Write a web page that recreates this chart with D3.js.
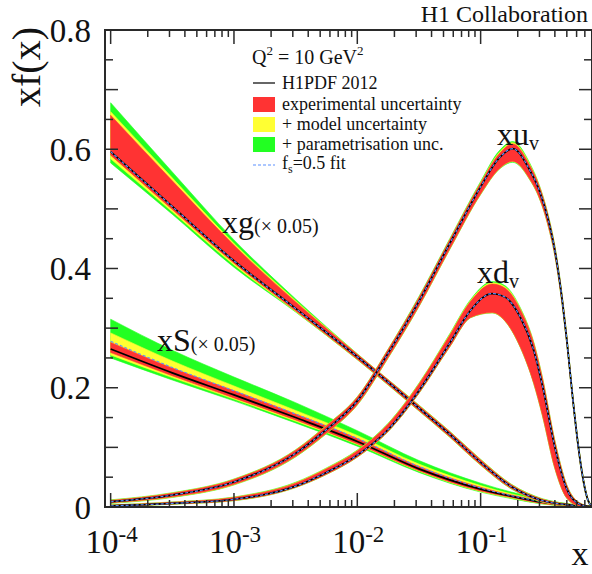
<!DOCTYPE html>
<html>
<head>
<meta charset="utf-8">
<script src="https://cdn.jsdelivr.net/npm/d3@7"></script>
<style>
  body { margin: 0; background: #fff; }
  svg { display: block; }
  text { font-family: "Liberation Serif", "DejaVu Serif", serif; fill: #111; }
</style>
</head>
<body>
<svg id="chart" width="592" height="574"></svg>
<script>
// ---- data (Q^2 = 10 GeV^2) ----

// xg (x 0.05)
const gX      = [1e-4, 3.16e-4, 1e-3, 3.16e-3, 1e-2, 3.16e-2, 5.62e-2, 0.1, 0.178, 0.316, 0.562, 0.8]
const gC      = [0.596, 0.504, 0.413, 0.333, 0.252, 0.166, 0.122, 0.075, 0.034, 0.011, 0.003, 0.001]
const gRedLo  = [0.590, 0.499, 0.409, 0.329, 0.248, 0.162, 0.118, 0.071, 0.031, 0.009, 0.002, 0.0005]
const gRedHi  = [0.657, 0.547, 0.439, 0.344, 0.256, 0.170, 0.126, 0.079, 0.037, 0.013, 0.004, 0.0015]
const gYelLo  = [0.584, 0.495, 0.406, 0.328, 0.2475, 0.1615, 0.1175, 0.0705, 0.0305, 0.0085, 0.0018, 0.0004]
const gYelHi  = [0.663, 0.552, 0.442, 0.346, 0.2565, 0.1705, 0.1265, 0.0795, 0.0375, 0.0135, 0.0042, 0.0016]
const gGrnLo  = [0.577, 0.491, 0.402, 0.327, 0.247, 0.161, 0.117, 0.070, 0.030, 0.008, 0.0016, 0.0003]
const gGrnHi  = [0.678, 0.562, 0.448, 0.349, 0.257, 0.171, 0.127, 0.080, 0.038, 0.014, 0.0045, 0.0018]

// xS (x 0.05)
const sX      = [1e-4, 3.16e-4, 1e-3, 3.16e-3, 1e-2, 3.16e-2, 0.1, 0.178, 0.316, 0.562, 0.8]
const sC      = [0.265, 0.225, 0.188, 0.150, 0.110, 0.064, 0.030, 0.018, 0.008, 0.002, 0.0003]
const sRedLo  = [0.259, 0.220, 0.183, 0.146, 0.106, 0.061, 0.027, 0.016, 0.006, 0.001, 0]
const sRedHi  = [0.276, 0.233, 0.195, 0.156, 0.115, 0.068, 0.033, 0.020, 0.010, 0.003, 0.0006]
const sYelLo  = [0.255, 0.217, 0.181, 0.144, 0.105, 0.060, 0.026, 0.015, 0.0055, 0.001, 0]
const sYelHi  = [0.292, 0.245, 0.203, 0.162, 0.120, 0.072, 0.036, 0.022, 0.011, 0.0035, 0.0008]
const sGrnLo  = [0.250, 0.213, 0.178, 0.141, 0.102, 0.058, 0.025, 0.014, 0.005, 0.0008, 0]
const sGrnHi  = [0.315, 0.263, 0.218, 0.175, 0.128, 0.078, 0.040, 0.025, 0.013, 0.004, 0.001]
const sFs     = [0.278, 0.234, 0.195, 0.156, 0.115, 0.068, 0.032, 0.019, 0.009, 0.0022, 0.0003]

// xu_v
const uX      = [1e-4, 3.16e-4, 1e-3, 3.16e-3, 5.62e-3, 1e-2, 1.78e-2, 3.16e-2, 5.62e-2, 0.1, 0.141, 0.182, 0.25, 0.30, 0.355, 0.40, 0.46, 0.50, 0.56, 0.63, 0.68, 0.74, 0.8]
const uC      = [0.009, 0.020, 0.042, 0.090, 0.130, 0.178, 0.258, 0.345, 0.442, 0.537, 0.585, 0.601, 0.565, 0.530, 0.480, 0.430, 0.345, 0.280, 0.180, 0.090, 0.045, 0.012, 0.001]
const uRedLo  = [0.007, 0.017, 0.038, 0.085, 0.124, 0.172, 0.251, 0.337, 0.433, 0.525, 0.567, 0.580, 0.550, 0.518, 0.470, 0.422, 0.337, 0.273, 0.174, 0.085, 0.041, 0.010, 0]
const uRedHi  = [0.011, 0.023, 0.046, 0.095, 0.136, 0.184, 0.264, 0.351, 0.448, 0.543, 0.592, 0.609, 0.573, 0.537, 0.486, 0.436, 0.351, 0.286, 0.185, 0.094, 0.048, 0.014, 0.002]
const uYelLo  = [0.0065, 0.0165, 0.0375, 0.0845, 0.1235, 0.1715, 0.2505, 0.3365, 0.4325, 0.5245, 0.5665, 0.5795, 0.5495, 0.5175, 0.4695, 0.4215, 0.3365, 0.2725, 0.1735, 0.0845, 0.0405, 0.0095, 0]
const uYelHi  = [0.0115, 0.0235, 0.0465, 0.0955, 0.1365, 0.1845, 0.2645, 0.3515, 0.4485, 0.544, 0.594, 0.611, 0.575, 0.538, 0.487, 0.437, 0.352, 0.287, 0.186, 0.095, 0.049, 0.0145, 0.0022]
const uGrnLo  = [0.006, 0.016, 0.037, 0.084, 0.123, 0.171, 0.250, 0.336, 0.432, 0.524, 0.566, 0.578, 0.549, 0.517, 0.469, 0.421, 0.336, 0.272, 0.173, 0.084, 0.040, 0.009, 0]
const uGrnHi  = [0.012, 0.024, 0.047, 0.096, 0.137, 0.185, 0.265, 0.353, 0.450, 0.546, 0.597, 0.613, 0.577, 0.539, 0.488, 0.438, 0.353, 0.288, 0.187, 0.096, 0.050, 0.015, 0.0025]

// xd_v
const dX      = [1e-4, 3.16e-4, 1e-3, 3.16e-3, 5.62e-3, 1e-2, 1.78e-2, 3.16e-2, 5.62e-2, 8.3e-2, 0.124, 0.158, 0.21, 0.27, 0.316, 0.40, 0.50, 0.63, 0.8]
const dC      = [0.002, 0.006, 0.013, 0.035, 0.058, 0.087, 0.130, 0.195, 0.275, 0.330, 0.358, 0.352, 0.318, 0.262, 0.205, 0.100, 0.030, 0.005, 0]
const dRedLo  = [0.001, 0.005, 0.011, 0.033, 0.055, 0.084, 0.127, 0.191, 0.269, 0.318, 0.326, 0.312, 0.268, 0.207, 0.155, 0.065, 0.015, 0.002, 0]
const dRedHi  = [0.003, 0.008, 0.016, 0.040, 0.064, 0.094, 0.139, 0.206, 0.288, 0.345, 0.374, 0.367, 0.331, 0.274, 0.217, 0.110, 0.036, 0.007, 0.0005]
const dYelLo  = [0.0009, 0.0048, 0.0108, 0.0328, 0.0548, 0.0838, 0.1268, 0.1908, 0.2688, 0.3178, 0.3258, 0.3118, 0.2678, 0.2068, 0.1548, 0.0648, 0.0148, 0.0018, 0]
const dYelHi  = [0.0032, 0.0082, 0.0164, 0.0408, 0.0648, 0.0948, 0.1398, 0.2068, 0.2893, 0.3465, 0.376, 0.369, 0.3325, 0.275, 0.218, 0.1108, 0.0365, 0.0072, 0.0005]
const dGrnLo  = [0.0008, 0.0045, 0.0105, 0.0325, 0.0545, 0.0835, 0.1265, 0.1905, 0.2685, 0.3175, 0.3255, 0.3115, 0.2675, 0.2065, 0.1545, 0.0645, 0.0145, 0.0015, 0]
const dGrnHi  = [0.0035, 0.0085, 0.0168, 0.0415, 0.0655, 0.0955, 0.1405, 0.2075, 0.2905, 0.348, 0.378, 0.371, 0.334, 0.276, 0.219, 0.1115, 0.037, 0.0075, 0.0006]

// axis labels
const yTickLabels = ["0", "0.2", "0.4", "0.6", "0.8"]
const xTickExps   = ["-4", "-3", "-2", "-1"]
const legendItems = ["H1PDF 2012", "experimental uncertainty", "+ model uncertainty", "+ parametrisation unc."]

// ---- drawing ----
const RED = "#ff3333", YEL = "#ffff33", GRN = "#22ff22", DASH = "#5a90ff", AX = "#2a2a2a"

const svg = d3.select("#chart")
const x = d3.scaleLog().domain([9.0e-5, 0.8]).range([105, 592])
const y = d3.scaleLinear().domain([0, 0.8]).range([507, 30])

svg.append("clipPath").attr("id", "plotclip")
  .append("rect").attr("x", 105).attr("y", 30).attr("width", 487).attr("height", 477)

const pdfs = [
  { xs: sX, c: sC, bands: [[sGrnLo, sGrnHi, GRN], [sYelLo, sYelHi, YEL], [sRedLo, sRedHi, RED]], fs: sFs },
  { xs: gX, c: gC, bands: [[gGrnLo, gGrnHi, GRN], [gYelLo, gYelHi, YEL], [gRedLo, gRedHi, RED]], fs: gC },
  { xs: dX, c: dC, bands: [[dGrnLo, dGrnHi, GRN], [dYelLo, dYelHi, YEL], [dRedLo, dRedHi, RED]], fs: dC },
  { xs: uX, c: uC, bands: [[uGrnLo, uGrnHi, GRN], [uYelLo, uYelHi, YEL], [uRedLo, uRedHi, RED]], fs: uC }
]

const plot = svg.append("g").attr("clip-path", "url(#plotclip)")

pdfs.forEach(p => {
  const idx = p.xs.map((v, i) => i)
  p.bands.forEach(([lo, hi, col]) => {
    const area = d3.area()
      .x(i => x(p.xs[i]))
      .y0(i => y(lo[i]))
      .y1(i => y(hi[i]))
      .curve(d3.curveMonotoneX)
    plot.append("path").datum(idx).attr("d", area).attr("fill", col).attr("stroke", col).attr("stroke-width", 0.6)
  })
  const line = arr => d3.line().x(i => x(p.xs[i])).y(i => y(arr[i])).curve(d3.curveMonotoneX)
  plot.append("path").datum(idx).attr("d", line(p.c))
    .attr("fill", "none").attr("stroke", "#000").attr("stroke-width", 1.7)
  plot.append("path").datum(idx).attr("d", line(p.fs))
    .attr("fill", "none").attr("stroke", DASH).attr("stroke-width", 1.1).attr("stroke-dasharray", "3,2")
})

// frame
const ax = svg.append("g").attr("stroke", AX)
ax.append("rect").attr("x", 105).attr("y", 30).attr("width", 487).attr("height", 477)
  .attr("fill", "none").attr("stroke-width", 2)

// y ticks (left and right, inward)
y.ticks(16).forEach(v => {
  const major = Math.round(v * 100) % 10 === 0
  const len = major ? 13 : 8
  ax.append("line").attr("x1", 105).attr("x2", 105 + len).attr("y1", y(v)).attr("y2", y(v)).attr("stroke-width", 1.5)
  ax.append("line").attr("x1", 592).attr("x2", 592 - len).attr("y1", y(v)).attr("y2", y(v)).attr("stroke-width", 1.5)
})

// x ticks (bottom and top, inward)
x.ticks().forEach(v => {
  const lg = Math.log10(v)
  const major = Math.abs(lg - Math.round(lg)) < 1e-6
  const len = major ? 14 : 7
  ax.append("line").attr("x1", x(v)).attr("x2", x(v)).attr("y1", 507).attr("y2", 507 - len).attr("stroke-width", 1.5)
  ax.append("line").attr("x1", x(v)).attr("x2", x(v)).attr("y1", 30).attr("y2", 30 + len).attr("stroke-width", 1.5)
})

// y tick labels
yTickLabels.forEach(t => {
  svg.append("text").attr("x", 91).attr("y", y(+t)).attr("dy", "0.35em")
    .attr("text-anchor", "end").attr("font-size", 33).text(t)
})

// x tick labels 10^n
xTickExps.forEach(e => {
  const t = svg.append("text").attr("x", x(Math.pow(10, +e)) + 1).attr("y", 553)
    .attr("text-anchor", "middle").attr("font-size", 33)
  t.append("tspan").text("10")
  t.append("tspan").attr("font-size", 23).attr("dy", -11).text(e)
})

// axis titles
svg.append("text").attr("transform", "translate(40,67) rotate(-90)")
  .attr("text-anchor", "middle").attr("font-size", 40).text("xf(x)")
svg.append("text").attr("x", 580).attr("y", 565).attr("text-anchor", "middle")
  .attr("font-size", 34).text("x")

svg.append("text").attr("x", 588).attr("y", 22).attr("text-anchor", "end")
  .attr("font-size", 24).text("H1 Collaboration")

// curve labels
const lab = (px, py, main, sub, small) => {
  const t = svg.append("text").attr("x", px).attr("y", py).attr("font-size", 32)
  t.append("tspan").text(main)
  if (sub) t.append("tspan").attr("font-size", 20).attr("dy", 5).text(sub)
  if (small) t.append("tspan").attr("font-size", 20).text(small)
}
lab(497, 145, "xu", "v")
lab(477, 283, "xd", "v")
lab(222, 233, "xg", null, "(× 0.05)")
lab(157, 351, "xS", null, "(× 0.05)")

// legend
const q = svg.append("text").attr("x", 252).attr("y", 64).attr("font-size", 20)
q.append("tspan").text("Q")
q.append("tspan").attr("font-size", 13).attr("dy", -9).text("2")
q.append("tspan").attr("dy", 9).text(" = 10 GeV")
q.append("tspan").attr("font-size", 13).attr("dy", -9).text("2")

const lg = svg.append("g")
const rowY = [89, 110, 130, 150]
lg.append("line").attr("x1", 253).attr("x2", 275).attr("y1", 83).attr("y2", 83)
  .attr("stroke", "#333").attr("stroke-width", 1.5)
;[RED, YEL, GRN].forEach((col, i) => {
  lg.append("rect").attr("x", 253).attr("y", rowY[i + 1] - 13).attr("width", 22).attr("height", 15).attr("fill", col)
})
legendItems.forEach((t, i) => {
  lg.append("text").attr("x", 282).attr("y", rowY[i]).attr("font-size", 18).text(t)
})
lg.append("line").attr("x1", 253).attr("x2", 275).attr("y1", 165).attr("y2", 165)
  .attr("stroke", DASH).attr("stroke-width", 1.2).attr("stroke-dasharray", "3,2")
const fsT = lg.append("text").attr("x", 282).attr("y", 169).attr("font-size", 18)
fsT.append("tspan").text("f")
fsT.append("tspan").attr("font-size", 12).attr("dy", 4).text("s")
fsT.append("tspan").attr("dy", -4).text("=0.5 fit")
</script>
</body>
</html>
